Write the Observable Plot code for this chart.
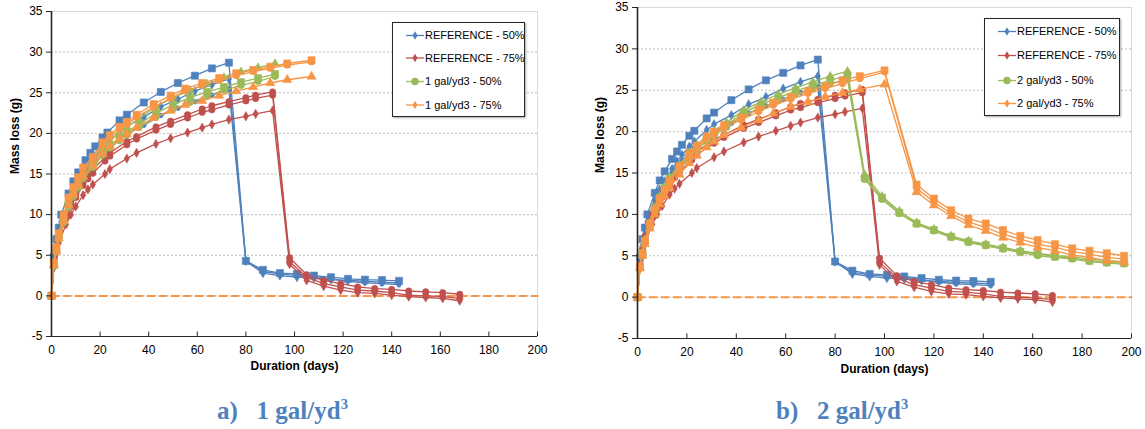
<!DOCTYPE html>
<html><head><meta charset="utf-8">
<script src="https://cdn.jsdelivr.net/npm/d3@7"></script>
<script src="https://cdn.jsdelivr.net/npm/@observablehq/plot@0.6"></script>
<style>
body{margin:0;background:#fff;width:1145px;height:429px;overflow:hidden;position:relative;font-family:"Liberation Sans",sans-serif;}
.panel{position:absolute;top:0;}
.legend{position:absolute;background:#fff;border:1px solid #262626;box-shadow:1px 1px 2px rgba(0,0,0,0.35);}
.cap{position:absolute;font-family:"Liberation Serif",serif;font-weight:bold;color:#4F81BD;font-size:25px;white-space:pre;line-height:1;}
.cap sup{font-size:58%;vertical-align:0.7em;}
</style></head><body>
<div id="pa" class="panel" style="left:0px"></div>
<div id="pb" class="panel" style="left:585px"></div>
<div id="la" class="legend" style="left:392px;top:22px;width:131px;height:93px"></div>
<div id="lb" class="legend" style="left:984px;top:18px;width:134px;height:96px"></div>
<div class="cap" style="left:217px;top:397px">a)   1 gal/yd<sup>3</sup></div>
<div class="cap" style="left:776px;top:397px">b)   2 gal/yd<sup>3</sup></div>
<script>
// ---------- data ----------
const xTicks = [0,20,40,60,80,100,120,140,160,180,200];
const yTicks = [-5,0,5,10,15,20,25,30,35];
const baseDays = [0,200];
const baseVals = [0,0];

// Reference 50% (blue), three replicates
const refDays50 = [0,1,2,3,4,7,9,11,14,16,18,21,23,28,31,38,45,52,59,66,73,80,87,94,101,108,115,122,129,136,143];
const ref50A = [0,4.8,7.0,8.4,10.0,12.6,14.1,15.2,16.7,17.6,18.4,19.5,20.1,21.6,22.3,23.8,25.1,26.2,27.1,28.0,28.7,4.3,3.2,2.8,2.7,2.5,2.3,2.1,2.0,1.95,1.85];
const ref50B = [0,4.3,6.2,7.6,9.1,11.7,13.0,14.0,15.5,16.4,17.2,18.2,18.8,20.2,20.9,22.0,23.3,24.2,25.2,26.0,26.7,4.3,2.8,2.5,2.3,2.2,2.0,1.9,1.8,1.7,1.6];
const ref50C = [0,4.0,5.9,7.2,8.7,11.2,12.4,13.4,14.8,15.7,16.5,17.5,18.1,19.4,20.0,21.0,22.2,23.1,23.9,24.7,25.4,4.2,3.0,2.7,2.5,2.4,2.1,1.8,1.6,1.5,1.4];

// Reference 75% (red)
const refDays75 = [0,1,2,3,6,8,10,13,15,17,22,24,31,35,43,49,56,62,66,73,80,84,91,98,105,112,119,126,133,140,147,154,161,168];
const ref75A = [0,4.0,5.8,7.3,10.0,11.3,12.5,14.0,14.8,15.6,17.0,17.6,19.0,19.6,20.8,21.5,22.3,23.0,23.4,23.9,24.4,24.7,25.1,4.7,2.6,1.9,1.5,1.1,0.9,0.8,0.6,0.5,0.4,0.2];
const ref75B = [0,3.8,5.5,7.0,9.6,11.0,12.1,13.6,14.4,15.1,16.6,17.2,18.6,19.3,20.4,21.1,21.9,22.6,22.9,23.5,24.0,24.3,24.7,4.2,2.3,1.5,1.1,0.7,0.6,0.4,0.1,0.0,-0.1,-0.3];
const ref75C = [0,3.5,5.2,6.5,8.8,10.0,11.0,12.4,13.1,13.7,15.0,15.6,16.9,17.6,18.7,19.4,20.1,20.7,21.1,21.7,22.1,22.4,22.8,3.9,1.9,1.2,0.7,0.4,0.3,0.1,-0.1,-0.2,-0.3,-0.6];

// 1 gal/yd3 - 50% (green)
const g1Days50 = [0,1,2,3,5,7,9,11,13,17,21,24,28,31,36,43,50,57,64,71,78,85,92];
const g1_50A = [0,3.9,5.8,7.4,9.6,11.6,12.9,14.0,15.1,16.6,18.2,19.1,20.1,20.8,21.8,23.3,24.4,25.3,26.1,26.9,27.6,28.1,28.6];
const g1_50B = [0,3.8,5.6,7.2,9.3,11.2,12.5,13.6,14.7,16.1,17.6,18.5,19.5,20.2,21.1,22.5,23.5,24.4,25.1,25.7,26.3,26.8,27.3];
const g1_50C = [0,3.7,5.4,7.0,9.0,10.9,12.2,13.3,14.4,15.8,17.3,18.2,19.1,19.8,20.7,22.0,23.0,23.8,24.6,25.3,25.9,26.4,27.0];

// 1 gal/yd3 - 75% (orange)
const g1Days75 = [0,1,2,3,5,7,9,11,13,17,21,24,28,31,35,42,49,55,62,69,76,83,90,97,107];
const g1_75A = [0,4.1,6.0,7.7,10.0,12.1,13.4,14.6,15.8,17.1,18.9,19.8,20.8,21.4,22.3,23.6,24.65,25.5,26.2,26.8,27.4,27.8,28.2,28.6,29.0];
const g1_75B = [0,4.0,5.8,7.5,9.7,11.8,13.1,14.3,15.5,16.9,18.6,19.5,20.5,21.1,22.0,23.2,24.3,25.2,25.9,26.5,27.1,27.6,28.0,28.4,28.8];
const g1_75C = [0,3.8,5.5,7.1,9.2,11.2,12.5,13.6,14.7,16.0,17.5,18.4,19.3,19.9,20.7,21.9,22.8,23.5,24.0,24.65,25.2,25.7,26.2,26.6,27.0];

// 2 gal/yd3 - 50% (green)
const g2Days50 = [0,1,2,3,5,7,9,11,13,17,21,24,28,31,36,43,50,57,64,71,78,85,92,99,106,113,120,127,134,141,148,155,162,169,176,183,190,197];
const g2_50A = [0,3.7,5.4,6.9,9.0,10.9,12.2,13.4,14.5,16.0,17.5,18.4,19.4,20.1,21.1,22.6,23.6,24.5,25.3,26.0,26.7,27.3,14.8,12.2,10.4,9.0,8.2,7.4,6.8,6.4,6.0,5.6,5.3,5.0,4.9,4.6,4.4,4.3];
const g2_50B = [0,3.6,5.3,6.8,8.8,10.7,12.0,13.2,14.3,15.8,17.2,18.1,19.1,19.8,20.8,22.3,23.3,24.1,24.9,25.6,26.2,26.8,14.4,12.0,10.2,8.9,8.1,7.3,6.7,6.3,5.9,5.5,5.2,4.9,4.7,4.4,4.2,4.1];
const g2_50C = [0,3.5,5.2,6.6,8.6,10.5,11.8,13.0,14.1,15.5,16.9,17.8,18.8,19.5,20.5,22.0,22.9,23.7,24.5,25.2,25.8,26.3,14.2,11.8,10.1,8.8,8.0,7.2,6.6,6.2,5.8,5.4,5.0,4.8,4.6,4.3,4.1,4.0];

// 2 gal/yd3 - 75% (orange)
const g2Days75 = [0,1,2,3,5,7,9,11,13,17,21,24,28,31,35,42,49,55,62,69,76,83,90,100,113,120,127,134,141,148,155,162,169,176,183,190,197];
const g2_75A = [0,3.7,5.3,6.8,8.9,10.6,11.9,13.0,14.1,15.8,17.4,18.3,19.4,20.0,20.8,21.7,22.7,23.5,24.2,24.9,25.5,26.2,26.7,27.4,13.6,11.9,10.5,9.5,8.9,8.1,7.4,6.9,6.4,5.9,5.6,5.3,5.0];
const g2_75B = [0,3.6,5.2,6.7,8.7,10.4,11.7,12.8,13.9,15.6,17.1,18.0,19.1,19.7,20.5,21.4,22.4,23.2,23.9,24.6,25.2,25.8,26.4,27.2,13.2,11.5,10.1,9.1,8.4,7.6,7.0,6.4,6.0,5.5,5.2,4.8,4.6];
const g2_75C = [0,3.5,5.0,6.4,8.3,10.0,11.2,12.2,13.2,14.8,16.2,17.1,18.1,18.8,19.6,20.5,21.4,22.2,23.0,23.6,24.2,24.7,25.1,25.7,12.7,11.1,9.8,8.7,8.0,7.2,6.6,6.0,5.6,5.1,4.8,4.4,4.2];

const legendA = ["REFERENCE - 50%","REFERENCE - 75%","1 gal/yd3 - 50%","1 gal/yd3 - 75%"];
const legendB = ["REFERENCE - 50%","REFERENCE - 75%","2 gal/yd3 - 50%","2 gal/yd3 - 75%"];

// ---------- styles ----------
const BLUE="#4F81BD", RED="#C0504D", GREEN="#9BBB59", ORANGE="#F79646";
const FONT = '"Liberation Sans",sans-serif';

function rows(days, vals){ return days.map((d,i)=>({day:d, val:vals[i]})); }

const refGroups = [
  {days:refDays50, reps:[ref50C, ref50B, ref50A], color:BLUE, sym:["circle","diamond","square"], r:[2.4,2.8,4]},
  {days:refDays75, reps:[ref75C, ref75B, ref75A], color:RED, sym:["diamond","circle","circle"], r:[2.8,3.2,3.2]}
];
const groupsA = refGroups.concat([
  {days:g1Days50, reps:[g1_50C, g1_50B, g1_50A], color:GREEN, sym:["circle","square","triangle"], r:[3.2,4,3]},
  {days:g1Days75, reps:[g1_75C, g1_75B, g1_75A], color:ORANGE, sym:["triangle","circle","square"], r:[3.4,3.2,4]}
]);
const groupsB = refGroups.concat([
  {days:g2Days50, reps:[g2_50C, g2_50B, g2_50A], color:GREEN, sym:["circle","square","triangle"], r:[3.2,4,3]},
  {days:g2Days75, reps:[g2_75C, g2_75B, g2_75A], color:ORANGE, sym:["triangle","circle","square"], r:[3.4,3.2,4]}
]);

function makePanel(groups, m, yTitleDx, xTitleDy){
  const marks = [
    Plot.ruleY(yTicks.filter(v=>v>-5), {stroke:"#bdbdbd", strokeDasharray:"2,2", strokeWidth:1}),
    Plot.frame({stroke:"#d9d9d9"}),
    Plot.line(rows(baseDays, baseVals), {x:"day", y:"val", stroke:ORANGE, strokeWidth:2, strokeDasharray:"7,5"})
  ];
  groups.forEach(g => g.reps.forEach((vals,k) => {
    const d = rows(g.days, vals);
    marks.push(Plot.line(d, {x:"day", y:"val", stroke:g.color, strokeWidth:1.3}));
    marks.push(Plot.dot(d, {x:"day", y:"val", symbol:g.sym[k], r:g.r[k], fill:g.color, stroke:g.color, strokeWidth:0.6}));
  }));
  marks.push(
    Plot.ruleX([0], {stroke:"#262626", strokeWidth:1.6}),
    Plot.ruleY([-5], {stroke:"#262626", strokeWidth:1.2}),
    Plot.ruleX(xTicks, {y1:-5, y2:-4.45, stroke:"#262626"}),
    Plot.axisX(xTicks, {tickSize:0, tickPadding:9, fontSize:12, tickFormat:d=>String(d)}),
    Plot.axisY(yTicks, {tickSize:5, tickPadding:4, fontSize:12, stroke:"#262626", tickFormat:d=>String(d)}),
    Plot.text(["Mass loss (g)"], {frameAnchor:"left", rotate:-90, dx:yTitleDx, fontWeight:"bold", fontSize:12}),
    Plot.text(["Duration (days)"], {frameAnchor:"bottom", dy:xTitleDy, fontWeight:"bold", fontSize:12})
  );
  return Plot.plot({
    width:560, height:385,
    marginLeft:m[0], marginRight:m[1], marginTop:m[2], marginBottom:m[3],
    x:{domain:[0,200], label:null},
    y:{domain:[-5,35], label:null},
    style:{fontFamily:FONT, fontSize:"12px", color:"#000", background:"transparent", overflow:"visible"},
    marks
  });
}

document.getElementById("pa").append(makePanel(groupsA, [51,23,11,49], -36, 33));
document.getElementById("pb").append(makePanel(groupsB, [52,14,7,47], -37, 34));

function makeLegend(el, labels, ys){
  const colors=[BLUE,RED,GREEN,ORANGE];
  const syms=[d3.symbolDiamond,d3.symbolDiamond,d3.symbolCircle,d3.symbolDiamond];
  const sizes=[22,22,45,22];
  const w = el.clientWidth, h = el.clientHeight;
  const svg = d3.select(el).append("svg").attr("width",w).attr("height",h).style("display","block");
  labels.forEach((t,i)=>{
    const y = ys[i];
    svg.append("line").attr("x1",13).attr("x2",31).attr("y1",y).attr("y2",y).attr("stroke",colors[i]).attr("stroke-width",1.3);
    svg.append("path").attr("d",d3.symbol(syms[i],sizes[i])()).attr("transform",`translate(22,${y})`).attr("fill",colors[i]);
    svg.append("text").attr("x",32).attr("y",y).attr("dy","0.35em").attr("font-family",FONT).attr("font-size",11).attr("fill","#000").text(t);
  });
}
makeLegend(document.getElementById("la"), legendA, [12.5,35,58.5,82]);
makeLegend(document.getElementById("lb"), legendB, [12.5,36.5,61.5,84.5]);
</script>
</body></html>
